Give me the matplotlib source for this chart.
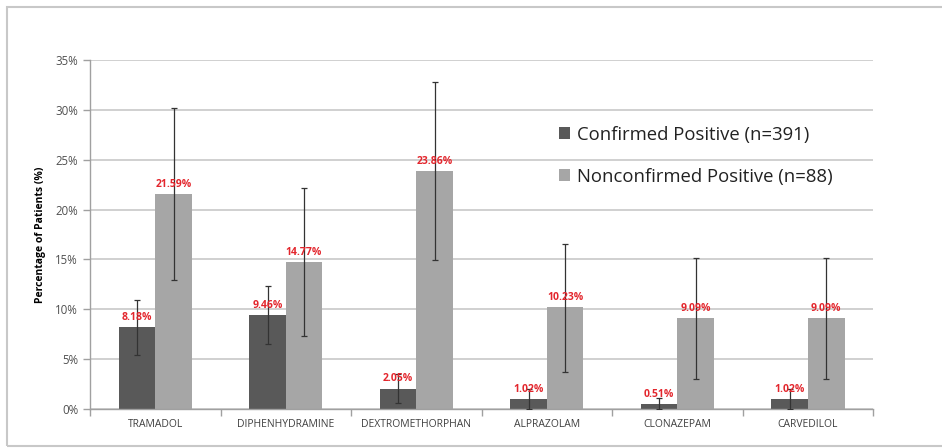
import numpy as np
import matplotlib
matplotlib.use("Agg")
import matplotlib.pyplot as plt
from matplotlib.patches import Rectangle

plt.rcParams['font.family'] = ['Open Sans', 'DejaVu Sans']

# 数据
drugs = ["TRAMADOL", "DIPHENHYDRAMINE", "DEXTROMETHORPHAN", "ALPRAZOLAM", "CLONAZEPAM", "CARVEDILOL"]
confirmed = [8.18, 9.46, 2.05, 1.02, 0.51, 1.02]
confirmed_low = [5.4, 6.5, 0.6, 0.0, 0.0, 0.0]
confirmed_high = [10.9, 12.3, 3.5, 2.0, 1.1, 2.0]
nonconfirmed = [21.59, 14.77, 23.86, 10.23, 9.09, 9.09]
nonconfirmed_low = [12.9, 7.3, 14.9, 3.7, 3.0, 3.0]
nonconfirmed_high = [30.2, 22.2, 32.8, 16.6, 15.1, 15.1]

dark = "#595959"
light = "#a6a6a6"
red = "#e3262d"
axis_gray = "#a0a0a0"

fig = plt.figure(figsize=(9.42, 4.48), dpi=100)
ax = fig.add_axes([0.0955, 0.087, 0.8315, 0.779])

x = np.arange(len(drugs))
w = 0.28

conf = np.array(confirmed)
nconf = np.array(nonconfirmed)
err_c = [conf - np.array(confirmed_low), np.array(confirmed_high) - conf]
err_n = [nconf - np.array(nonconfirmed_low), np.array(nonconfirmed_high) - nconf]

ax.bar(x - w / 2, conf, w, color=dark, label="Confirmed Positive (n=391)", zorder=2)
ax.bar(x + w / 2, nconf, w, color=light, label="Nonconfirmed Positive (n=88)", zorder=2)
ax.errorbar(x - w / 2, conf, yerr=err_c, fmt="none", ecolor="#333333", elinewidth=0.9, capsize=2.5, capthick=0.9, zorder=3)
ax.errorbar(x + w / 2, nconf, yerr=err_n, fmt="none", ecolor="#333333", elinewidth=0.9, capsize=2.5, capthick=0.9, zorder=3)

# 数值标签
for xi, v in zip(x - w / 2, conf):
    ax.annotate(f"{v:.2f}%", (xi, v), xytext=(0, 3), textcoords="offset points",
                ha="center", va="bottom", color=red, fontsize=7.5, fontweight="bold", zorder=4)
for xi, v in zip(x + w / 2, nconf):
    ax.annotate(f"{v:.2f}%", (xi, v), xytext=(0, 3), textcoords="offset points",
                ha="center", va="bottom", color=red, fontsize=7.5, fontweight="bold", zorder=4)

ax.set_xlim(-0.5, len(drugs) - 0.5)
ax.set_ylim(0, 35)
ax.set_yticks(np.arange(0, 36, 5))
ax.set_yticklabels([f"{t}%" for t in range(0, 36, 5)])
ax.set_xticks(x)
ax.set_xticklabels(drugs)
ax.set_xticks(np.arange(-0.5, len(drugs), 1), minor=True)
ax.tick_params(axis="x", which="major", length=0, labelsize=7.5, labelcolor="#404040", pad=7)
ax.tick_params(axis="x", which="minor", length=5, color=axis_gray, width=1)
ax.tick_params(axis="y", length=5, color=axis_gray, width=1, labelsize=8.3, labelcolor="#505050")

ax.yaxis.grid(True, color="#c8c8c8", linewidth=1.2, zorder=0)
ax.set_axisbelow(True)
for s in ["top", "right"]:
    ax.spines[s].set_visible(False)
for s in ["left", "bottom"]:
    ax.spines[s].set_color(axis_gray)
    ax.spines[s].set_linewidth(1)

ax.set_ylabel("Percentage of Patients (%)", fontsize=7.5, fontweight="bold", labelpad=7)

leg = ax.legend(loc="upper left", bbox_to_anchor=(0.577, 0.86), frameon=False, fontsize=13.3,
                handlelength=0.6, handleheight=0.6, handletextpad=0.4, labelspacing=1.3)
for t in leg.get_texts():
    t.set_color("#222222")

# 外框
fig.patches.append(Rectangle((7 / 942, 2 / 448), 1.2, 439 / 448, transform=fig.transFigure,
                             fill=False, edgecolor="#c8c8c8", linewidth=1.5))

fig.savefig("out.png", dpi=100)
